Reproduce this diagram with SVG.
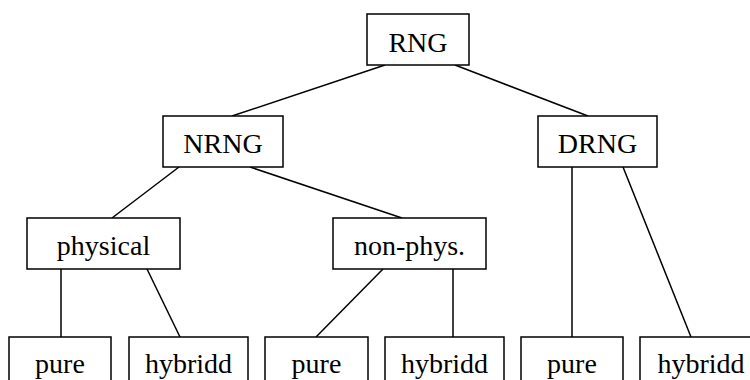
<svg xmlns="http://www.w3.org/2000/svg" width="750" height="380" viewBox="0 0 750 380">
<style>
rect{fill:#fff;stroke:#000;stroke-width:1.5}
line{stroke:#000;stroke-width:1.5}
text{font-family:"Liberation Serif","Times New Roman",serif;font-size:28px;text-anchor:middle;fill:#000}
</style>
<rect x="0" y="0" width="750" height="380" style="stroke:none"/>
<g id="connectors">
<line x1="385" y1="65" x2="232" y2="116"/>
<line x1="455" y1="65" x2="588" y2="116"/>
<line x1="179" y1="167" x2="112" y2="218"/>
<line x1="250" y1="167" x2="402" y2="218"/>
<line x1="572" y1="167" x2="572" y2="337"/>
<line x1="623" y1="167" x2="691" y2="337"/>
<line x1="61" y1="269" x2="61" y2="337"/>
<line x1="147" y1="269" x2="180" y2="337"/>
<line x1="383" y1="269" x2="316" y2="337"/>
<line x1="453" y1="269" x2="453" y2="337"/>
</g>
<g id="rng"><rect x="367" y="14" width="102" height="51"/><text x="418" y="52">RNG</text></g>
<g id="nrng"><rect x="163" y="116" width="120" height="51"/><text x="223" y="153">NRNG</text></g>
<g id="drng"><rect x="538" y="116" width="119" height="51"/><text x="597.5" y="153">DRNG</text></g>
<g id="physical"><rect x="27" y="218" width="153" height="51"/><text x="103.5" y="255">physical</text></g>
<g id="nonphys"><rect x="333" y="218" width="153" height="51"/><text x="409.5" y="255">non-phys.</text></g>
<g id="pure1"><rect x="9" y="337" width="102" height="60"/><text x="60" y="373">pure</text></g>
<g id="hybridd1"><rect x="129" y="337" width="119" height="60"/><text x="188.5" y="373">hybridd</text></g>
<g id="pure2"><rect x="265" y="337" width="103" height="60"/><text x="316.5" y="373">pure</text></g>
<g id="hybridd2"><rect x="385" y="337" width="119" height="60"/><text x="444.5" y="373">hybridd</text></g>
<g id="pure3"><rect x="521" y="337" width="102" height="60"/><text x="572" y="373">pure</text></g>
<g id="hybridd3"><rect x="640" y="337" width="120" height="60"/><text x="701" y="373">hybridd</text></g>
</svg>
